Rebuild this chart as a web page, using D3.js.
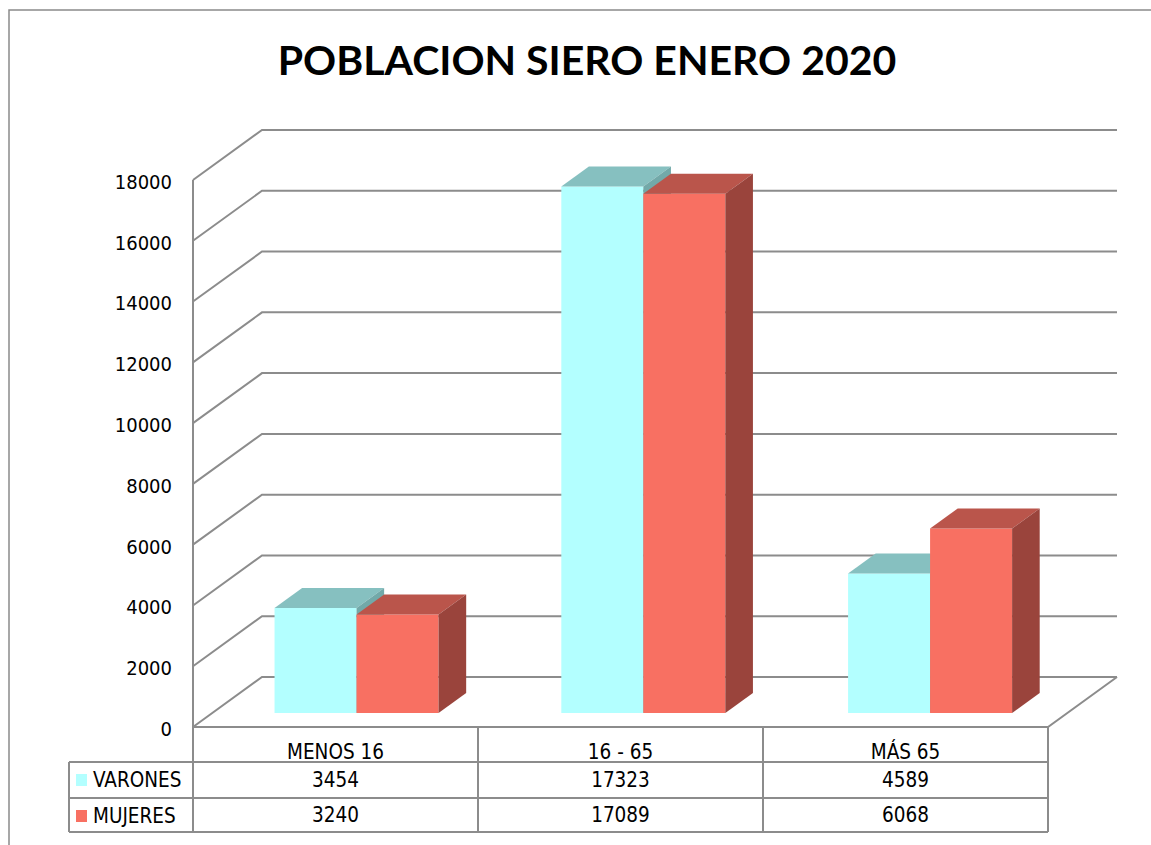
<!DOCTYPE html>
<html lang="es">
<head>
<meta charset="UTF-8">
<title>POBLACION SIERO ENERO 2020</title>
<script src="https://cdnjs.cloudflare.com/ajax/libs/d3/7.8.5/d3.min.js"></script>
<style>
    body { margin: 0; background: #fff; }
    svg text { font-family: "DejaVu Sans Condensed", "DejaVu Sans", sans-serif; font-stretch: condensed; fill: #000; }
    .title { font-family: Lato, "Open Sans", sans-serif; font-weight: 700; font-stretch: normal; }
</style>
</head>
<body>
<div id="chart"></div>
<script>
const categories = ["MENOS 16", "16 - 65", "MÁS 65"];
const seriesNames = ["VARONES", "MUJERES"];
const varones = [3454, 17323, 4589];
const mujeres = [3240, 17089, 6068];
const tickValues = [0, 2000, 4000, 6000, 8000, 10000, 12000, 14000, 16000, 18000];

const W = 1151, H = 845;
const plot = { left: 193, right: 1048, bottom: 727, top: 180 };
const depth = { dx: 69, dy: -50 };
const barDepth = [0.28, 0.68];
const colors = {
    VARONES: { front: "#b3ffff", top: "#86c0c0", side: "#72a9a9" },
    MUJERES: { front: "#f87062", top: "#ba554b", side: "#9a443c" }
};
const gridColor = "#8c8c8c";

const svg = d3.select("#chart").append("svg")
    .attr("width", W).attr("height", H);

// outer frame
svg.append("path")
    .attr("d", `M9,${H + 5}V10H${W + 5}`)
    .attr("fill", "none").attr("stroke", "#8a8a8a").attr("stroke-width", 1.5);

svg.append("text").attr("class", "title")
    .attr("x", 587).attr("y", 75)
    .attr("text-anchor", "middle")
    .attr("font-size", 41)
    .text("POBLACION SIERO ENERO 2020");

const y = d3.scaleLinear().domain([0, 18000]).range([plot.bottom, plot.top]);
// bars sit slightly wider than the table columns
const x = d3.scaleBand().domain(categories).range([plot.left + 2, plot.right + 5])
    .paddingInner(0.428).paddingOuter(0.21);
const s = d3.scaleBand().domain(seriesNames).range([0, x.bandwidth()]);

// project a point on the front plane back by depth fraction d
const p = (xf, v, d) => [xf + d * depth.dx, y(v) + d * depth.dy];
const poly = pts => "M" + pts.map(q => q.join(",")).join("L") + "Z";
const line = pts => "M" + pts.map(q => q.join(",")).join("L");

// gridlines: left wall diagonal + back wall horizontal
const grid = svg.append("g").attr("fill", "none").attr("stroke", gridColor).attr("stroke-width", 2);
tickValues.forEach(t => {
    grid.append("path").attr("d", line([p(plot.left, t, 0), p(plot.left, t, 1), p(plot.right, t, 1)]));
});
// front-left edge of wall and floor edges
grid.append("path").attr("d", line([p(plot.left, 18000, 0), p(plot.left, 0, 0), p(plot.right, 0, 0), p(plot.right, 0, 1)]));

// y axis labels
const yAxis = svg.append("g")
    .attr("transform", `translate(${plot.left},2)`)
    .call(d3.axisLeft(y).tickValues(tickValues).tickSize(0).tickPadding(21).tickFormat(d3.format("d")));
yAxis.select(".domain").remove();
yAxis.selectAll("text").attr("font-size", 20).attr("font-family", null);

// bars
const data = categories.map((c, i) => ({ cat: c, values: [varones[i], mujeres[i]] }));
const bars = svg.append("g");
data.forEach(dd => {
    seriesNames.forEach((name, j) => {
        const v = dd.values[j];
        const x0 = x(dd.cat) + s(name), x1 = x0 + s.bandwidth();
        const [d0, d1] = barDepth;
        const g = bars.append("g");
        g.append("path").attr("fill", colors[name].front)
            .attr("d", poly([p(x0, v, d0), p(x1, v, d0), p(x1, 0, d0), p(x0, 0, d0)]));
        g.append("path").attr("fill", colors[name].top)
            .attr("d", poly([p(x0, v, d0), p(x1, v, d0), p(x1, v, d1), p(x0, v, d1)]));
        g.append("path").attr("fill", colors[name].side)
            .attr("d", poly([p(x1, v, d0), p(x1, v, d1), p(x1, 0, d1), p(x1, 0, d0)]));
    });
});

// data table
const rows = [plot.bottom, 762, 798, 832];
const legendLeft = 69;
const step = (plot.right - plot.left) / categories.length;
const colEdges = d3.range(categories.length + 1).map(i => plot.left + i * step);
const table = svg.append("g").attr("fill", "none").attr("stroke", gridColor).attr("stroke-width", 2);
colEdges.forEach(cx => table.append("path").attr("d", `M${cx},${rows[0]}V${rows[3]}`));
table.append("path").attr("d", `M${legendLeft},${rows[1]}V${rows[3]}`);
rows.slice(1).forEach(ry => table.append("path").attr("d", `M${legendLeft},${ry}H${plot.right}`));

const fs = 20.5;
categories.forEach((c, i) => {
    const cx = colEdges[i] + step / 2;
    svg.append("text").attr("x", cx).attr("y", 759).attr("text-anchor", "middle").attr("font-size", fs).text(c);
    svg.append("text").attr("x", cx).attr("y", 787).attr("text-anchor", "middle").attr("font-size", fs).text(varones[i]);
    svg.append("text").attr("x", cx).attr("y", 822).attr("text-anchor", "middle").attr("font-size", fs).text(mujeres[i]);
});
seriesNames.forEach((name, j) => {
    const ry = rows[j + 1];
    svg.append("rect").attr("x", 76).attr("y", ry + 12).attr("width", 11).attr("height", 12)
        .attr("fill", colors[name].front);
    svg.append("text").attr("x", 93).attr("y", ry + 25).attr("font-size", fs).text(name);
});
</script>
</body>
</html>
